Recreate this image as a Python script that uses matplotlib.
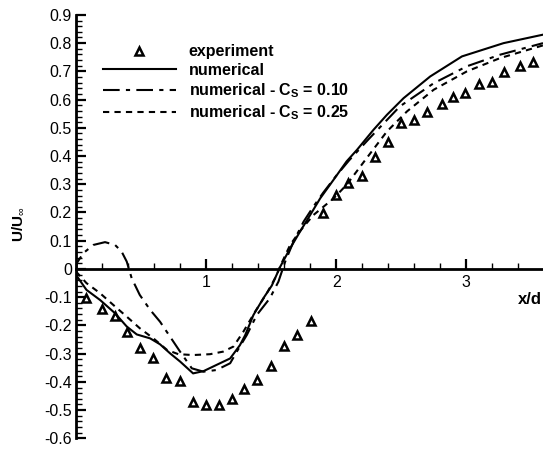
import matplotlib.pyplot as plt
from matplotlib.ticker import MultipleLocator, FixedLocator

plt.rcParams['font.family'] = ['Liberation Sans', 'DejaVu Sans']
plt.rcParams['mathtext.fontset'] = 'custom'
plt.rcParams['mathtext.bf'] = 'Liberation Sans:bold'
plt.rcParams['mathtext.rm'] = 'Liberation Sans'

# experiment (triangles)
exp_x = [0.08, 0.20, 0.30, 0.39, 0.49, 0.59, 0.69, 0.80, 0.90, 1.00, 1.10, 1.20,
         1.29, 1.39, 1.50, 1.60, 1.70, 1.81,
         1.90, 2.00, 2.09, 2.20, 2.30, 2.40, 2.50, 2.60, 2.70, 2.81, 2.90, 2.99,
         3.10, 3.20, 3.29, 3.41, 3.51]
exp_y = [-0.104, -0.143, -0.165, -0.225, -0.281, -0.317, -0.388, -0.397, -0.473, -0.483, -0.481, -0.460,
         -0.427, -0.394, -0.343, -0.273, -0.234, -0.184,
         0.197, 0.262, 0.303, 0.328, 0.396, 0.449, 0.517, 0.526, 0.555, 0.585, 0.608, 0.622,
         0.655, 0.662, 0.698, 0.718, 0.733]

# numerical (solid)
num_x = [0.0, 0.08, 0.185, 0.30, 0.39, 0.467, 0.57, 0.646, 0.723, 0.80, 0.90, 0.98,
         1.08, 1.185, 1.26, 1.30, 1.364, 1.44, 1.505, 1.57, 1.646, 1.723, 1.80, 1.877,
         1.98, 2.08, 2.16, 2.287, 2.39, 2.518, 2.723, 2.967, 3.287, 3.59]
num_y = [-0.021, -0.074, -0.11, -0.157, -0.204, -0.232, -0.246, -0.267, -0.299, -0.328, -0.37, -0.362,
         -0.34, -0.317, -0.27, -0.235, -0.163, -0.104, -0.059, 0.008, 0.073, 0.133, 0.191, 0.25,
         0.316, 0.381, 0.422, 0.493, 0.546, 0.605, 0.682, 0.753, 0.80, 0.83]

# numerical - Cs = 0.10 (dash-dot)
cs10_x = [0.0, 0.005, 0.056, 0.133, 0.223, 0.30, 0.35, 0.39, 0.428, 0.49, 0.57, 0.646,
          0.723, 0.80, 0.89, 0.98, 1.08, 1.185, 1.236, 1.313, 1.39, 1.49, 1.556, 1.608,
          1.672, 1.75, 1.825, 1.90, 2.00, 2.10, 2.25, 2.49, 2.75, 3.005, 3.26, 3.59]
cs10_y = [-0.01, 0.02, 0.056, 0.085, 0.095, 0.085, 0.062, 0.026, -0.033, -0.092, -0.145, -0.187,
          -0.24, -0.293, -0.352, -0.364, -0.358, -0.334, -0.293, -0.234, -0.163, -0.104, -0.045, 0.026,
          0.097, 0.168, 0.221, 0.27, 0.33, 0.385, 0.46, 0.576, 0.658, 0.718, 0.759, 0.80]

# numerical - Cs = 0.25 (dashed)
cs25_x = [0.0, 0.08, 0.185, 0.30, 0.39, 0.49, 0.595, 0.70, 0.787, 0.90, 1.03, 1.13,
          1.21, 1.287, 1.377, 1.467, 1.53, 1.58, 1.646, 1.72, 1.825, 1.98, 2.08, 2.235,
          2.39, 2.544, 2.75, 3.005, 3.26, 3.59]
cs25_y = [-0.009, -0.05, -0.086, -0.133, -0.169, -0.21, -0.246, -0.287, -0.302, -0.305, -0.302, -0.293,
          -0.275, -0.222, -0.151, -0.086, -0.033, 0.02, 0.085, 0.133, 0.191, 0.25, 0.298, 0.393,
          0.487, 0.558, 0.635, 0.70, 0.747, 0.792]

fig = plt.figure(figsize=(5.43, 4.49), dpi=100)
ax = fig.add_axes([0.14, 0.0238, 0.86, 0.943])

ax.plot(exp_x, exp_y, linestyle='none', marker='^', markersize=5.5, markerfacecolor='white',
        markeredgecolor='black', markeredgewidth=1.8, label='experiment')
ax.plot(num_x, num_y, color='black', lw=1.5, label='numerical')
ax.plot(cs10_x, cs10_y, color='black', lw=1.5, dashes=(8, 3, 2, 3),
        label=r'numerical - C$_\mathbf{S}$ = 0.10')
ax.plot(cs25_x, cs25_y, color='black', lw=1.5, dashes=(3, 2.5),
        label=r'numerical - C$_\mathbf{S}$ = 0.25')

ax.set_xlim(0, 3.59)
ax.set_ylim(-0.6, 0.9)

for s in ['top', 'right']:
    ax.spines[s].set_visible(False)
ax.spines['bottom'].set_position(('data', 0))
ax.spines['bottom'].set_linewidth(2)
ax.spines['left'].set_linewidth(2)

ax.xaxis.set_major_locator(FixedLocator([1, 2, 3]))
ax.xaxis.set_minor_locator(MultipleLocator(0.2))
ax.yaxis.set_minor_locator(MultipleLocator(0.02))
ax.set_yticks([round(-0.6 + 0.1 * i, 1) for i in range(16)])
ax.set_yticklabels(['%g' % round(-0.6 + 0.1 * i, 1) for i in range(16)])
ax.tick_params(which='major', direction='in', length=7, width=1.6, labelsize=11.5, pad=4)
ax.tick_params(which='minor', direction='in', length=4, width=1.0)
ax.tick_params(axis='y', which='major', pad=3)

ax.set_ylabel(r'U/U$_\infty$', fontsize=11, fontweight='bold')
ax.yaxis.set_label_coords(-0.108, 0.505)
ax.text(3.585, -0.107, 'x/d', fontsize=12, fontweight='bold', ha='right', va='center')

leg = ax.legend(loc='upper left', bbox_to_anchor=(0.026, 0.965), frameon=False,
                handlelength=4.6, numpoints=1, labelspacing=0.22, handletextpad=0.8,
                prop={'weight': 'bold', 'size': 11.5})

fig.savefig('out.png', dpi=100)
